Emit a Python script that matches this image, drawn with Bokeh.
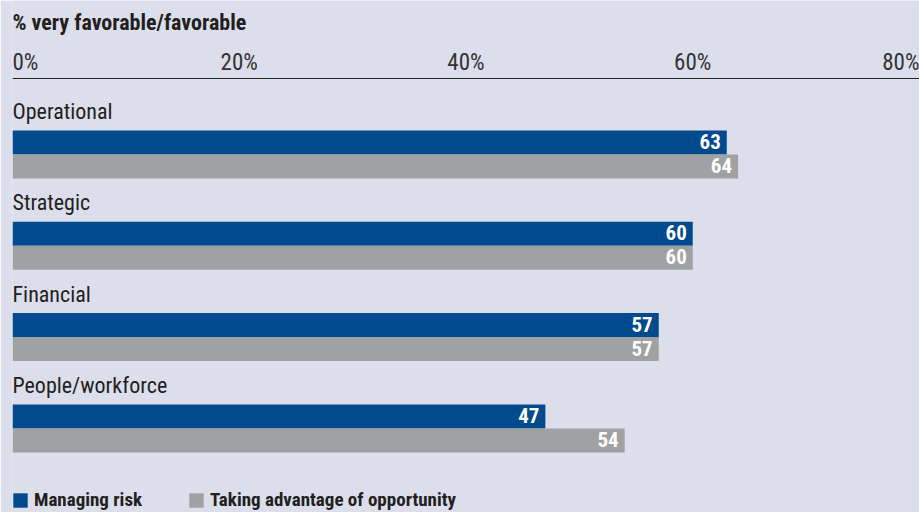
from bokeh.plotting import figure
from bokeh.models import Range1d, Span, Legend, LegendItem
from bokeh.core.properties import value
from bokeh.embed import file_html
from bokeh.resources import INLINE

# ---- data ----
categories = ["Operational", "Strategic", "Financial", "People/workforce"]
managing_risk = [63, 60, 57, 47]
taking_opportunity = [64, 60, 57, 54]
tick_values = [0, 20, 40, 60, 80]
tick_labels = ["0%", "20%", "40%", "60%", "80%"]
series_names = ["Managing risk", "Taking advantage of opportunity"]
subtitle = "% very favorable/favorable"

# ---- style ----
BG = "#DCDEEC"
BLUE = "#004A8D"
GRAY = "#A0A1A3"
TXT = "#231F20"
FONT = "Roboto Condensed"

W, H = 919, 512
p = figure(width=W, height=H, x_range=Range1d(0, 80), y_range=Range1d(H, 0),
           output_backend="svg", toolbar_location=None,
           x_axis_location=None, y_axis_location=None,
           min_border_left=12, min_border_right=0, min_border_top=0, min_border_bottom=0)
p.grid.visible = False
p.outline_line_color = None
p.background_fill_color = BG
p.border_fill_color = BG

# layout positions (pixels from top)
step = 91.3
blue_y = [142 + step * i for i in range(len(categories))]
gray_y = [y + 24 for y in blue_y]
label_y = [y - 31 for y in blue_y]

# subtitle
p.text(x=[0], y=[22], text=[subtitle], text_font=value(FONT), text_font_style="bold",
       text_font_size="22px", text_color=TXT, text_align="left", text_baseline="alphabetic")

# axis line and tick labels
p.add_layout(Span(location=78, dimension="width", line_color=TXT, line_width=1.2))
last = len(tick_values) - 1
for i, (tv, tl) in enumerate(zip(tick_values, tick_labels)):
    align = "left" if i == 0 else ("right" if i == last else "center")
    p.text(x=[tv], y=[62], text=[tl], text_font=value(FONT), text_font_size="23px",
           text_color="#333333", text_align=align, text_baseline="alphabetic")

# category labels
p.text(x=[0] * len(categories), y=label_y, text=categories, text_font=value(FONT),
       text_font_size="22px", text_color=TXT, text_align="left", text_baseline="alphabetic")

# bars
r1 = p.hbar(y=blue_y, left=0, right=managing_risk, height=24, fill_color=BLUE, line_color=None)
r2 = p.hbar(y=gray_y, left=0, right=taking_opportunity, height=24, fill_color=GRAY, line_color=None)

# value labels
p.text(x=managing_risk, y=[y - 1 for y in blue_y], text=[str(v) for v in managing_risk],
       text_font=value(FONT), text_font_style="bold", text_font_size="21px", text_color="white",
       text_align="right", text_baseline="alphabetic", x_offset=-6)
p.text(x=taking_opportunity, y=[y - 1 for y in gray_y], text=[str(v) for v in taking_opportunity],
       text_font=value(FONT), text_font_style="bold", text_font_size="21px", text_color="white",
       text_align="right", text_baseline="alphabetic", x_offset=-6)

# legend
legend = Legend(items=[LegendItem(label=series_names[0], renderers=[r1]),
                       LegendItem(label=series_names[1], renderers=[r2])],
                location=(-1, 1), orientation="horizontal",
                background_fill_alpha=0, border_line_color=None,
                padding=0, margin=0, spacing=45, label_standoff=5,
                glyph_width=18, glyph_height=18, label_height=18,
                label_text_font=FONT, label_text_font_style="bold",
                label_text_font_size="19px", label_text_color=TXT,
                label_text_baseline="middle")
p.add_layout(legend)

open("out.html", "w").write(file_html(p, INLINE))
